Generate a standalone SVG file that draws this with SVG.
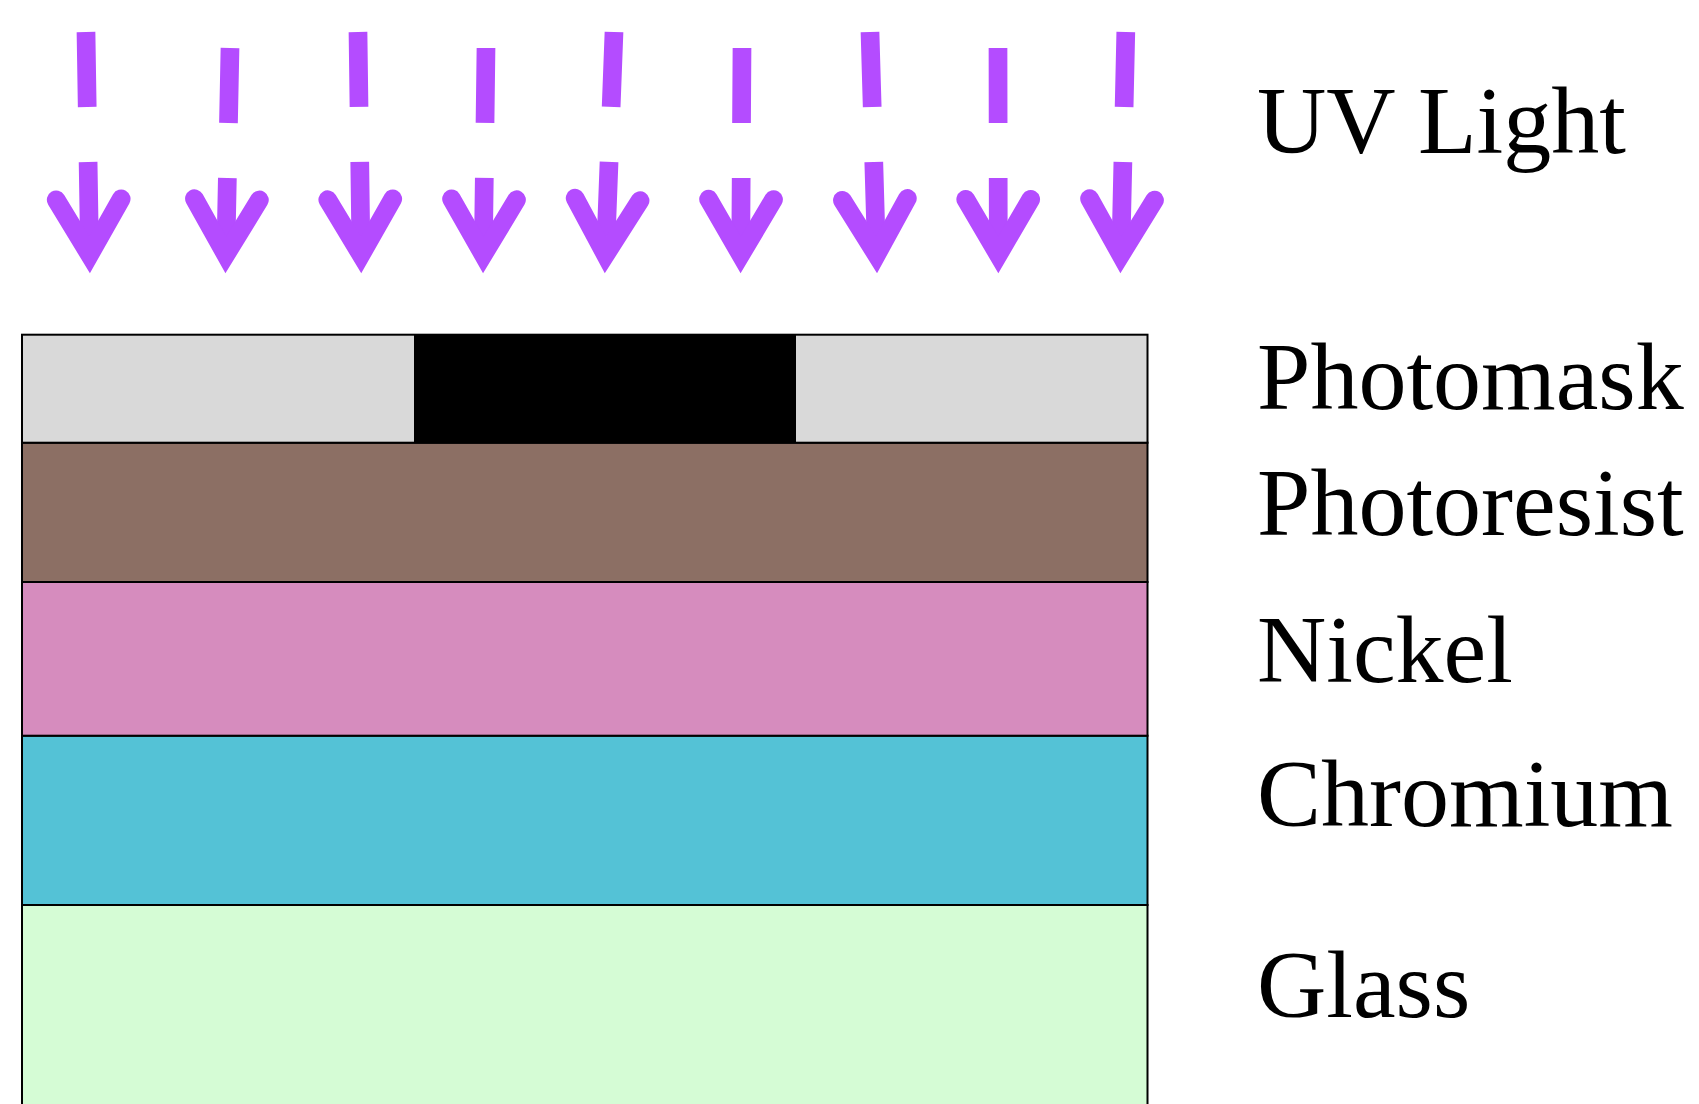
<svg xmlns="http://www.w3.org/2000/svg" width="1699" height="1104" viewBox="0 0 1699 1104">
  <style>
    .uv { fill: none; stroke: #B44CFF; stroke-width: 18.7; stroke-dasharray: 75 55; stroke-linecap: butt; }
    .layer { stroke: #000000; stroke-width: 2; }
    .label { font-family: "Liberation Serif", "Times New Roman", serif; font-size: 96px; fill: #000000; }
  </style>
  <defs>
    <marker id="head" markerUnits="userSpaceOnUse" orient="auto" refX="0" refY="0" markerWidth="200" markerHeight="200" viewBox="-100 -100 200 200" overflow="visible">
      <polyline points="-55.5,-32.5 0,0 -55.5,32.5" fill="none" stroke="#B44CFF" stroke-width="18.7" stroke-linecap="round" stroke-linejoin="miter"/>
    </marker>
  </defs>
  <rect x="0" y="0" width="1699" height="1104" fill="#FFFFFF"/>

  <g id="uv-arrows">
    <path class="uv" marker-end="url(#head)" d="M86,32 L89.6,254.8"/>
    <path class="uv" marker-end="url(#head)" d="M230,48 L225.8,254.8"/>
    <path class="uv" marker-end="url(#head)" d="M358,32 L361,254.8"/>
    <path class="uv" marker-end="url(#head)" d="M486,48 L483.3,254.8"/>
    <path class="uv" marker-end="url(#head)" d="M614,32 L605.5,254.8"/>
    <path class="uv" marker-end="url(#head)" d="M742,48 L740.7,254.8"/>
    <path class="uv" marker-end="url(#head)" d="M870,32 L876.5,254.8"/>
    <path class="uv" marker-end="url(#head)" d="M998,48 L998.3,254.8"/>
    <path class="uv" marker-end="url(#head)" d="M1125.8,32 L1120.8,254.8"/>
  </g>

  <g id="glass">
    <rect class="layer" x="22" y="905" width="1125.5" height="210" fill="#D5FCD5"/>
  </g>
  <g id="chromium">
    <rect class="layer" x="22" y="735.7" width="1125.5" height="169.3" fill="#54C2D6"/>
  </g>
  <g id="nickel">
    <rect class="layer" x="22" y="582" width="1125.5" height="153.7" fill="#D68CBE"/>
  </g>
  <g id="photoresist">
    <rect class="layer" x="22" y="442.7" width="1125.5" height="139.3" fill="#8C6F64"/>
  </g>
  <g id="photomask">
    <rect class="layer" x="22" y="334.7" width="1125.5" height="108" fill="#D9D9D9"/>
    <rect x="414" y="334.7" width="382" height="108" fill="#000000"/>
  </g>

  <g id="labels">
    <text class="label" x="1257" y="153.3">UV Light</text>
    <text class="label" x="1257" y="409.3">Photomask</text>
    <text class="label" x="1257" y="535">Photoresist</text>
    <text class="label" x="1257" y="681.7">Nickel</text>
    <text class="label" x="1257" y="826">Chromium</text>
    <text class="label" x="1257" y="1017.3">Glass</text>
  </g>
</svg>
